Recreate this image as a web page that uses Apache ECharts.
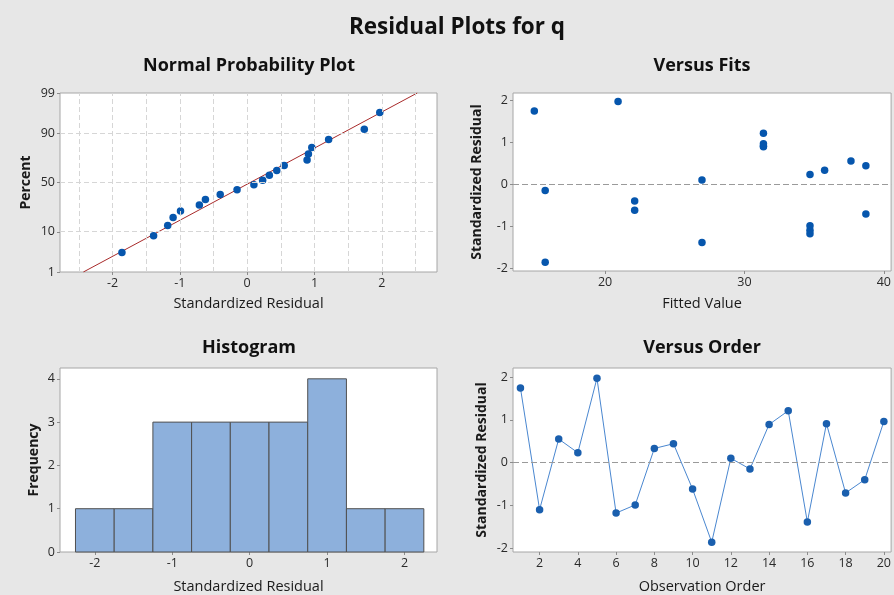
<!DOCTYPE html>
<html>
<head>
<meta charset="utf-8">
<script src="https://cdn.jsdelivr.net/npm/echarts@6.0.0/dist/echarts.min.js"></script>
<style>
  html, body { margin: 0; padding: 0; background: #e7e7e7; }
  #chart { width: 894px; height: 595px; }
</style>
</head>
<body>
<div id="chart"></div>
<script>
// Standardized residuals, in observation order
const residuals = [1.74, -1.10, 0.55, 0.23, 1.97, -1.18, -0.99, 0.33, 0.44, -0.62,
                   -1.86, 0.10, -0.15, 0.89, 1.21, -1.39, 0.91, -0.71, -0.40, 0.96];
// Fitted values for the same observations
const fittedValues = [14.92, 34.70, 37.64, 34.70, 20.93, 34.70, 34.70, 35.75, 38.71, 22.12,
                      15.70, 26.95, 15.70, 31.36, 31.36, 26.95, 31.36, 38.71, 22.12, 31.36];
const observationOrder = [1, 2, 3, 4, 5, 6, 7, 8, 9, 10, 11, 12, 13, 14, 15, 16, 17, 18, 19, 20];

// Tick labels
const percentTicks = [1, 10, 50, 90, 99];
const percentGridLines = [10, 50, 90];
const residualTicks = [-2, -1, 0, 1, 2];
const residualGridLines = [-2.5, -2, -1.5, -1, -0.5, 0, 0.5, 1, 1.5, 2, 2.5];
const fitTicks = [20, 30, 40];
const frequencyTicks = [0, 1, 2, 3, 4];
const orderTicks = [2, 4, 6, 8, 10, 12, 14, 16, 18, 20];
// Histogram bin edges
const binEdges = [-2.25, -1.75, -1.25, -0.75, -0.25, 0.25, 0.75, 1.25, 1.75, 2.25];

// Inverse standard normal CDF (Acklam's rational approximation)
function normInv(p) {
  const a = [-3.969683028665376e+01, 2.209460984245205e+02, -2.759285104469687e+02,
             1.383577518672690e+02, -3.066479806614716e+01, 2.506628277459239e+00];
  const b = [-5.447609879822406e+01, 1.615858368580409e+02, -1.556989798598866e+02,
             6.680131188771972e+01, -1.328068155288572e+01];
  const c = [-7.784894002430293e-03, -3.223964580411365e-01, -2.400758277161838e+00,
             -2.549671010325307e+00, 4.374664141464968e+00, 2.938163982698783e+00];
  const d = [7.784695709041462e-03, 3.224671290700398e-01, 2.445134137142996e+00,
             3.754408661907416e+00];
  const pl = 0.02425;
  let q, r;
  if (p < pl) {
    q = Math.sqrt(-2 * Math.log(p));
    return (((((c[0]*q+c[1])*q+c[2])*q+c[3])*q+c[4])*q+c[5]) / ((((d[0]*q+d[1])*q+d[2])*q+d[3])*q+1);
  }
  if (p > 1 - pl) {
    q = Math.sqrt(-2 * Math.log(1 - p));
    return -(((((c[0]*q+c[1])*q+c[2])*q+c[3])*q+c[4])*q+c[5]) / ((((d[0]*q+d[1])*q+d[2])*q+d[3])*q+1);
  }
  q = p - 0.5; r = q * q;
  return (((((a[0]*r+a[1])*r+a[2])*r+a[3])*r+a[4])*r+a[5])*q / (((((b[0]*r+b[1])*r+b[2])*r+b[3])*r+b[4])*r+1);
}

const n = residuals.length;
const sorted = residuals.slice().sort((a, b) => a - b);
// Median-rank plotting positions on the normal-probability scale
const probPoints = sorted.map((v, i) => [v, normInv((i + 1 - 0.3) / (n + 0.4))]);
const mean = residuals.reduce((s, v) => s + v, 0) / n;
const sd = Math.sqrt(residuals.reduce((s, v) => s + (v - mean) * (v - mean), 0) / (n - 1));
const zTop = normInv(0.99), zBottom = normInv(0.01);
const fitLine = [[mean + sd * zBottom, zBottom], [mean + sd * zTop, zTop]];

// Histogram counts
const counts = binEdges.slice(0, -1).map((lo, i) =>
  residuals.filter(v => v >= lo && v < binEdges[i + 1]).length);
const histData = counts.map((c, i) => [binEdges[i], binEdges[i + 1], c]);

const FONT = '"Open Sans", "Noto Sans", sans-serif';
const BLUE = '#0656ad';
const FRAME = '#a6a6a6';

function axis(gridIndex, min, max, ticks, name, nameGap, isY, formatter) {
  return {
    type: 'value', gridIndex, min, max,
    name, nameLocation: 'middle', nameGap,
    nameTextStyle: { fontFamily: FONT, fontSize: isY ? 14 : 14.5, color: '#1a1a1a', fontWeight: isY ? 'bold' : 'normal' },
    axisLine: { show: false, onZero: false },
    axisTick: { show: true, customValues: ticks, length: 3, lineStyle: { color: '#8c8c8c' } },
    axisLabel: { customValues: ticks, fontFamily: FONT, fontSize: 12.5, color: '#2a2a2a', margin: 5,
                 formatter: formatter || (v => String(v)) },
    splitLine: { show: false }
  };
}

const dashed = { color: '#d6d6d6', type: [5, 3], width: 1 };
const zeroLine = { color: '#9a9a9a', type: [6, 3], width: 1 };

function heading(text, x, y, size) {
  return { type: 'text', x, y, style: { text, fontFamily: FONT, fontSize: size, fontWeight: 'bold',
           fill: '#111', textAlign: 'center', textVerticalAlign: 'middle' } };
}

const option = {
  backgroundColor: '#e7e7e7',
  animation: false,
  textStyle: { fontFamily: FONT },
  graphic: [
    heading('Residual Plots for q', 457, 28, 22.5),
    heading('Normal Probability Plot', 249, 66, 18),
    heading('Versus Fits', 702, 66, 18),
    heading('Histogram', 249, 348, 18),
    heading('Versus Order', 702, 348, 18)
  ],
  grid: [
    { left: 60, top: 93, width: 377, height: 179, show: true, backgroundColor: '#fff', borderColor: FRAME, borderWidth: 1 },
    { left: 513, top: 93, width: 379, height: 178, show: true, backgroundColor: '#fff', borderColor: FRAME, borderWidth: 1 },
    { left: 60, top: 368, width: 377, height: 185, show: true, backgroundColor: '#fff', borderColor: FRAME, borderWidth: 1 },
    { left: 513, top: 368, width: 379, height: 185, show: true, backgroundColor: '#fff', borderColor: FRAME, borderWidth: 1 }
  ],
  xAxis: [
    axis(0, -2.78, 2.82, residualTicks, 'Standardized Residual', 24, false),
    axis(1, 13.39, 40.52, fitTicks, 'Fitted Value', 25, false),
    axis(2, -2.45, 2.42, residualTicks, 'Standardized Residual', 27, false),
    axis(3, 0.61, 20.38, orderTicks, 'Observation Order', 27, false)
  ],
  yAxis: [
    axis(0, zBottom, zTop, percentTicks.map(p => normInv(p / 100)), 'Percent', 27, true,
         v => String(percentTicks.reduce((best, p) => Math.abs(normInv(p / 100) - v) < Math.abs(normInv(best / 100) - v) ? p : best))),
    axis(1, -2.07, 2.17, residualTicks, 'Standardized Residual', 29, true),
    axis(2, 0, 4.25, frequencyTicks, 'Frequency', 19, true),
    axis(3, -2.09, 2.21, residualTicks, 'Standardized Residual', 24, true)
  ],
  series: [
    // probability-plot reference grid
    {
      type: 'line', xAxisIndex: 0, yAxisIndex: 0, data: [], silent: true,
      markLine: {
        silent: true, symbol: 'none', label: { show: false }, lineStyle: dashed,
        data: residualGridLines.map(v => ({ xAxis: v }))
          .concat(percentGridLines.map(p => ({ yAxis: normInv(p / 100) })))
      }
    },
    {
      type: 'line', xAxisIndex: 0, yAxisIndex: 0, data: fitLine, symbol: 'none',
      lineStyle: { color: '#a82a2a', width: 1 }, silent: true, z: 3
    },
    {
      type: 'scatter', xAxisIndex: 0, yAxisIndex: 0, data: probPoints, symbolSize: 7.5,
      itemStyle: { color: BLUE, opacity: 1 }, z: 4
    },
    // versus fits
    {
      type: 'scatter', xAxisIndex: 1, yAxisIndex: 1,
      data: fittedValues.map((f, i) => [f, residuals[i]]), symbolSize: 7.5,
      itemStyle: { color: BLUE, opacity: 1 }, z: 4,
      markLine: { silent: true, symbol: 'none', label: { show: false }, lineStyle: zeroLine, data: [{ yAxis: 0 }] }
    },
    // histogram
    {
      type: 'custom', xAxisIndex: 2, yAxisIndex: 2, data: histData,
      renderItem: function (params, api) {
        const p0 = api.coord([api.value(0), api.value(2)]);
        const p1 = api.coord([api.value(1), 0]);
        return {
          type: 'rect',
          shape: { x: p0[0], y: p0[1], width: p1[0] - p0[0], height: p1[1] - p0[1] },
          style: { fill: '#8db0dc', stroke: '#505050', lineWidth: 1 }
        };
      }
    },
    // versus order
    {
      type: 'line', xAxisIndex: 3, yAxisIndex: 3,
      data: observationOrder.map((o, i) => [o, residuals[i]]),
      symbol: 'circle', symbolSize: 7.5, showSymbol: true,
      lineStyle: { color: '#4a87d0', width: 1 },
      itemStyle: { color: '#1a5fae' }, z: 4,
      markLine: { silent: true, symbol: 'none', label: { show: false }, lineStyle: zeroLine, data: [{ yAxis: 0 }] }
    }
  ]
};

const chart = echarts.init(document.getElementById('chart'), null, { renderer: 'canvas' });
chart.setOption(option);
</script>
</body>
</html>
